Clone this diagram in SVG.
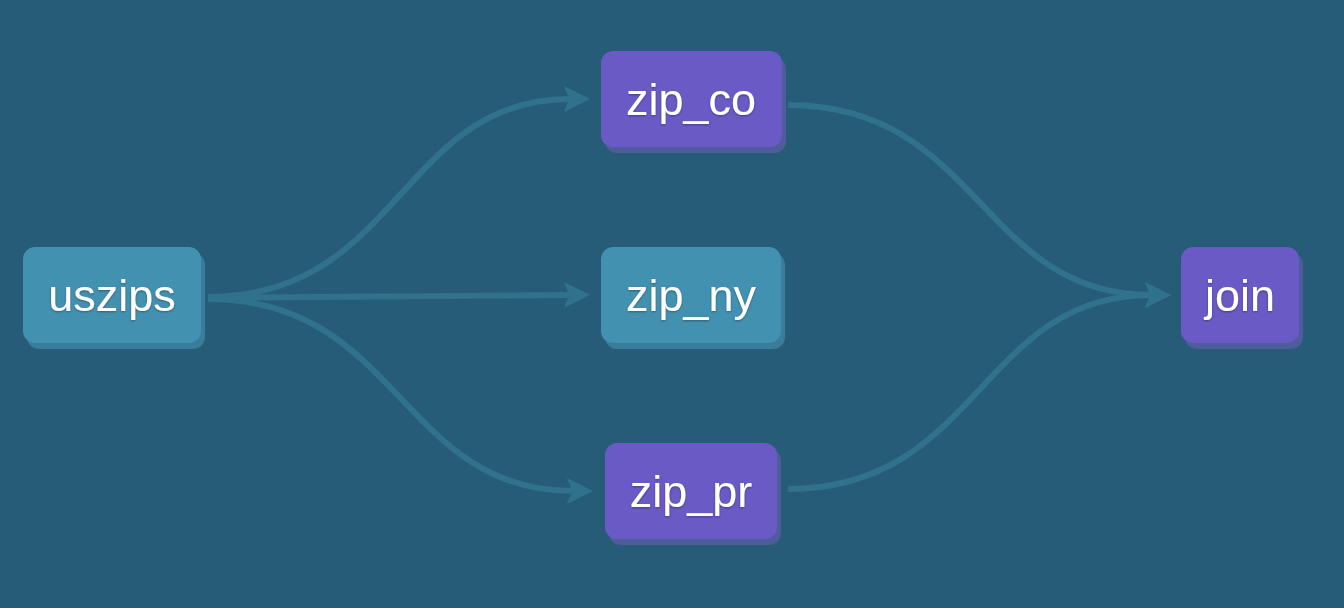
<svg xmlns="http://www.w3.org/2000/svg" width="1344" height="608" viewBox="0 0 1344 608">
<style>
.bg{fill:#275c78}
.edge{fill:none;stroke:#30718c;stroke-width:6}
.teal{fill:#4391b0}
.teal-sh{fill:#3a7c9b}
.purple{fill:#6a5ac5}
.purple-sh{fill:#4f5c9c}
.lbl{font-family:"Liberation Sans",Arial,sans-serif;font-size:45px;fill:#ffffff;text-anchor:middle;filter:url(#ts)}
</style>
<defs>
<marker id="arr" markerUnits="userSpaceOnUse" markerWidth="30" markerHeight="28" viewBox="-8 -14 30 28" refX="0" refY="0" orient="auto" overflow="visible">
<path d="M-6,-13 L20,0 L-6,13 L-1,0 z" fill="#30718c"/>
</marker>
<filter id="ts" x="-10%" y="-10%" width="120%" height="130%">
<feDropShadow dx="0" dy="1" stdDeviation="1" flood-color="#000000" flood-opacity="0.35"/>
</filter>
</defs>
<rect class="bg" x="0" y="0" width="1344" height="608"/>
<g id="connectors">
<path class="edge" d="M208,297 C400,297 400,99 570,99" marker-end="url(#arr)"/>
<path class="edge" d="M208,298 L570,295" marker-end="url(#arr)"/>
<path class="edge" d="M208,299 C400,299 400,491 573,491" marker-end="url(#arr)"/>
<path class="edge" d="M788,105 C980,105 980,295 1151,295" marker-end="url(#arr)"/>
<path class="edge" d="M788,489 C980,489 980,295 1151,295" marker-end="url(#arr)"/>
</g>
<g id="uszips">
<rect class="teal-sh" x="27" y="253" width="178" height="96" rx="12"/>
<rect class="teal" x="23" y="247" width="178" height="96" rx="12"/>
<text class="lbl" x="112" y="311">uszips</text>
</g>
<g id="zip_co">
<rect class="purple-sh" x="605" y="57" width="181" height="96" rx="12"/>
<rect class="purple" x="601" y="51" width="181" height="96" rx="12"/>
<text class="lbl" x="691" y="115">zip_co</text>
</g>
<g id="zip_ny">
<rect class="teal-sh" x="605" y="253" width="180" height="96" rx="12"/>
<rect class="teal" x="601" y="247" width="180" height="96" rx="12"/>
<text class="lbl" x="691" y="311">zip_ny</text>
</g>
<g id="zip_pr">
<rect class="purple-sh" x="609" y="449" width="172" height="96" rx="12"/>
<rect class="purple" x="605" y="443" width="172" height="96" rx="12"/>
<text class="lbl" x="691" y="507">zip_pr</text>
</g>
<g id="join">
<rect class="purple-sh" x="1185" y="253" width="118" height="96" rx="12"/>
<rect class="purple" x="1181" y="247" width="118" height="96" rx="12"/>
<text class="lbl" x="1240" y="311">join</text>
</g>
</svg>
